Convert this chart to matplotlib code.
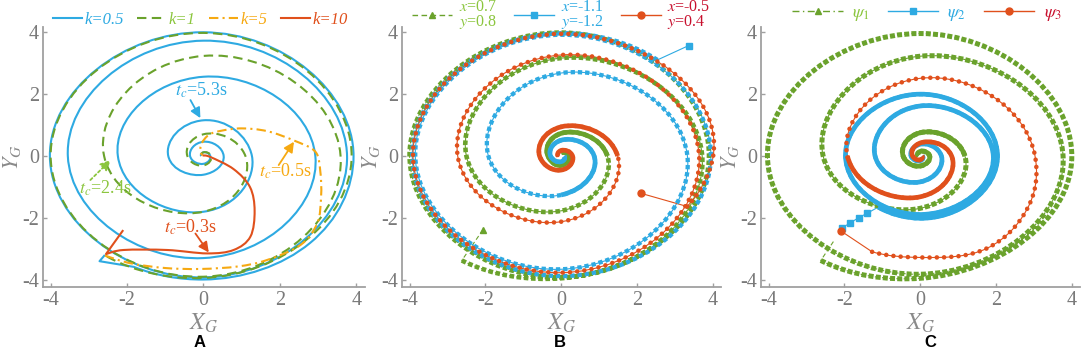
import numpy as np
import matplotlib
matplotlib.use('Agg')
import matplotlib.pyplot as plt
from matplotlib.path import Path
from matplotlib.patches import PathPatch
from matplotlib.lines import Line2D

plt.rcParams['font.family'] = 'serif'
plt.rcParams['font.serif'] = ['Liberation Serif', 'DejaVu Serif']
plt.rcParams['mathtext.fontset'] = 'stix'
plt.rcParams['axes.unicode_minus'] = False

BLUE = '#2eaae2'
GREEN = '#6aa22c'
GREEN_TXT = '#8cc63f'
ORANGE = '#f6a912'
RED = '#e0501c'
RED_TXT = '#c8102e'
SERIF = ['Liberation Serif', 'DejaVu Serif']

# ---- panel A: polar samples (angle in deg, radius) ----
a_blue_lead_x = [-2.58, -2.72]
a_blue_lead_y = [-3.18, -3.38]
a_blue_theta = [243, 270, 315, 360, 450, 540, 630, 720, 810, 900, 990, 1080, 1170,
                1260, 1350, 1440, 1530, 1620, 1710, 1800, 1890, 1980, 2070, 2160, 2250, 2340]
a_blue_r = [4.0, 3.97, 3.95, 3.93, 3.98, 4.02, 3.9, 3.76, 3.71, 3.55, 3.28, 2.93, 2.55,
            2.24, 1.79, 1.27, 1.15, 0.92, 0.6, 0.53, 0.46, 0.35, 0.25, 0.18, 0.12, 0.06]

a_green_theta = [232, 270, 360, 450, 540, 630, 720, 810, 900, 990, 1080, 1170, 1260, 1350, 1440, 1530, 1620]
a_green_r = [4.1, 3.92, 3.88, 3.96, 4.0, 3.88, 3.59, 3.22, 2.6, 1.79, 1.1, 0.7, 0.42, 0.3, 0.2, 0.12, 0.05]

a_orange_x = [-2.58, -1.9, -1.0, -0.08, 0.9, 1.67, 2.54, 2.98, 3.08, 3.06, 2.93, 2.37,
              1.67, 1.0, 0.45, 0.14, -0.05, -0.08, -0.02]
a_orange_y = [-3.2, -3.45, -3.6, -3.63, -3.55, -3.34, -2.86, -2.16, -1.3, -0.5, 0.14, 0.5,
              0.8, 0.89, 0.81, 0.68, 0.4, 0.14, 0.02]

a_red_lead_x = [-2.1]
a_red_lead_y = [-2.38]
a_red_x = [-2.55, -2.09, -0.95, 0.1, 0.79, 1.23, 1.34, 1.22, 0.79, 0.18, -0.02]
a_red_y = [-3.15, -3.02, -3.02, -3.13, -3.02, -2.59, -1.76, -1.0, -0.42, -0.03, 0.02]

a_labels = ['k=0.5', 'k=1', 'k=5', 'k=10']

# ---- panel B ----
b_green_lead_x = [-2.07]
b_green_lead_y = [-2.38]
b_green_theta = [232, 270, 360, 450, 540, 630, 720, 810, 900, 990, 1080, 1170, 1260, 1350, 1440, 1530]
b_green_r = [4.26, 3.93, 3.9, 3.97, 4.0, 3.9, 3.72, 3.15, 2.5, 1.76, 1.22, 0.73, 0.35, 0.3, 0.2, 0.1]

b_blue_lead_x = [3.36]
b_blue_lead_y = [3.55]
b_blue_theta = [50.6, 90, 180, 270, 360, 450, 540, 630, 720, 810, 900, 990, 1080, 1170, 1260, 1350, 1440]
b_blue_r = [4.0, 3.95, 3.93, 3.86, 3.95, 3.9, 3.85, 3.64, 3.33, 2.67, 1.92, 1.25, 0.87, 0.51, 0.28, 0.18, 0.08]

b_red_lead_x = [2.11]
b_red_lead_y = [-1.2]
b_red_theta = [334, 360, 450, 540, 630, 720, 810, 900, 990, 1080, 1170, 1260, 1350, 1440, 1530, 1620]
b_red_r = [3.7, 4.01, 3.93, 3.91, 3.75, 3.64, 3.25, 2.73, 2.11, 1.49, 0.94, 0.57, 0.45, 0.3, 0.18, 0.08]

b_labels = ['$x$=0.7\n$y$=0.8', '$x$=-1.1\n$y$=-1.2', '$x$=-0.5\n$y$=0.4']

# ---- panel C ----
c_green_lead_x = [-2.29]
c_green_lead_y = [-2.75]
c_green_theta = [232, 270, 360, 450, 540, 630, 720, 810, 900, 990, 1080, 1170, 1260, 1350, 1440, 1530, 1620]
c_green_r = [4.26, 3.93, 4.0, 3.94, 4.03, 3.8, 3.77, 3.21, 2.56, 1.68, 1.18, 0.75, 0.45, 0.32, 0.25, 0.15, 0.05]

c_blue_lead_x = [-2.07, -1.85, -1.62, -1.4]
c_blue_lead_y = [-2.32, -2.15, -1.98, -1.84]
c_blue_theta = [236, 270, 360, 450, 540, 630, 720, 810, 900, 990, 1080, 1170, 1260, 1350, 1440]
c_blue_r = [1.98, 2.0, 2.04, 1.99, 1.97, 1.88, 1.93, 1.61, 1.19, 0.83, 0.56, 0.38, 0.24, 0.15, 0.06]

c_red_lead_x = [-2.09]
c_red_lead_y = [-2.41]
c_red_theta = [247.6, 270, 300.6, 332.3, 360, 450, 540, 630, 720, 810, 900, 990, 1080]
c_red_r = [3.33, 3.26, 3.45, 3.27, 3.03, 2.5, 1.92, 1.31, 0.83, 0.42, 0.2, 0.12, 0.05]

c_labels = [r'$\psi_1$', r'$\psi_2$', r'$\psi_3$']


def polar_knots(theta_deg, r):
    t = np.radians(theta_deg)
    r = np.asarray(r, float)
    dr = np.gradient(r, t)
    pts = np.column_stack([r * np.cos(t), r * np.sin(t)])
    tan = np.column_stack([dr * np.cos(t) - r * np.sin(t), dr * np.sin(t) + r * np.cos(t)])
    return pts, tan, np.diff(t)


def cart_knots(x, y):
    pts = np.column_stack([x, y]).astype(float)
    q = np.vstack([pts[:1], pts, pts[-1:]])
    tan = (q[2:] - q[:-2]) / 2
    return pts, tan, np.ones(len(pts) - 1)


def make_path(knots, lead_x=(), lead_y=(), start=0):
    pts, tan, h = knots
    verts, codes = [], []
    for x, y in zip(lead_x, lead_y):
        verts.append((x, y))
        codes.append(Path.LINETO if codes else Path.MOVETO)
    verts.append(pts[start])
    codes.append(Path.LINETO if codes else Path.MOVETO)
    for i in range(start, len(pts) - 1):
        verts += [pts[i] + tan[i] * h[i] / 3, pts[i + 1] - tan[i + 1] * h[i] / 3, pts[i + 1]]
        codes += [Path.CURVE4] * 3
    return Path(verts, codes)


def line(ax, path, color, lw, ls='-', z=2):
    ax.add_patch(PathPatch(path, fill=False, edgecolor=color, lw=lw, linestyle=ls,
                           capstyle='butt', joinstyle='round', zorder=z))


def beads(ax, path, color, size, step, shape, z=3):
    # marker-like beads along the trajectory (size/step in pixels)
    lw = size * 0.72
    if shape == 'o':
        ls, cap = (0, (0.01, step / size)), 'round'
    else:
        ls, cap = (0, (1.0, (step - size) / size)), 'butt'
    ax.add_patch(PathPatch(path, fill=False, edgecolor=color, lw=lw, linestyle=ls,
                           capstyle=cap, zorder=z))


def band_start(r, limit):
    # first knot from which the markers crowd into a solid band
    for i, v in enumerate(r):
        if v <= limit:
            return i
    return len(r) - 1


fig = plt.figure(figsize=(10.84, 3.55), dpi=100)
ax_a = fig.add_axes([0.03967, 0.19155, 0.2967, 0.7333])
ax_b = fig.add_axes([0.37085, 0.19155, 0.2944, 0.7333])
ax_c = fig.add_axes([0.70203, 0.19155, 0.2944, 0.7333])

for ax in (ax_a, ax_b, ax_c):
    ax.set_xlim(-4.2, 4.22)
    ax.set_ylim(-4.21, 4.16)
    ax.spines['top'].set_visible(False)
    ax.spines['right'].set_visible(False)
    for s in ('left', 'bottom'):
        ax.spines[s].set_color('#a0a0a0')
        ax.spines[s].set_linewidth(1.3)
    ax.set_xticks([-4, -2, 0, 2, 4])
    ax.set_yticks([-4, -2, 0, 2, 4])
    ax.tick_params(direction='in', length=3, width=1, color='#a0a0a0',
                   labelcolor='#7a7a7a', labelsize=14.5, pad=3)
    ax.set_xlabel('$X_G$', color='#8a8a8a', fontsize=17, labelpad=1)
    ax.set_ylabel('$Y_G$', color='#8a8a8a', fontsize=16, labelpad=-1)

# ---------- A ----------
line(ax_a, make_path(polar_knots(a_blue_theta, a_blue_r), a_blue_lead_x, a_blue_lead_y), BLUE, 1.5)
line(ax_a, make_path(polar_knots(a_green_theta, a_green_r)), GREEN, 1.5, (0, (4.5, 2.6)))
line(ax_a, make_path(cart_knots(a_orange_x, a_orange_y)), ORANGE, 1.5, (0, (4.5, 2.0, 1.0, 2.0)))
line(ax_a, make_path(cart_knots(a_red_x, a_red_y), a_red_lead_x, a_red_lead_y), RED, 1.5)

arr = dict(arrowstyle='-|>,head_length=0.6,head_width=0.3', lw=1.3, shrinkA=0, shrinkB=0)
ax_a.annotate('', xy=(-0.08, 1.22), xytext=(-0.34, 1.8), arrowprops=dict(color=BLUE, **arr))
ax_a.text(-0.05, 2.1, '$t_c$=5.3s', color=BLUE, fontsize=13, ha='center', va='center')
ax_a.annotate('', xy=(-2.43, -0.13), xytext=(-2.96, -0.77),
              arrowprops=dict(color=GREEN_TXT, linestyle=(0, (1.5, 1.5)), **arr))
ax_a.text(-2.58, -1.03, '$t_c$=2.4s', color=GREEN_TXT, fontsize=13, ha='center', va='center')
ax_a.annotate('', xy=(2.37, 0.46), xytext=(1.97, -0.29), arrowprops=dict(color=ORANGE, **arr))
ax_a.text(2.15, -0.5, '$t_c$=0.5s', color=ORANGE, fontsize=13, ha='center', va='center')
ax_a.annotate('', xy=(0.14, -3.1), xytext=(-0.21, -2.49), arrowprops=dict(color=RED, **arr))
ax_a.text(-0.34, -2.3, '$t_c$=0.3s', color=RED, fontsize=13, ha='center', va='center')

a_handles = [Line2D([], [], color=BLUE, lw=1.5),
             Line2D([], [], color=GREEN, lw=1.5, ls=(0, (4.5, 2.6))),
             Line2D([], [], color=ORANGE, lw=1.5, ls=(0, (4.5, 2.0, 1.0, 2.0))),
             Line2D([], [], color=RED, lw=1.5)]
ax_a.legend(a_handles, a_labels, loc='center', bbox_to_anchor=(0.49, 1.025), ncol=4,
            frameon=False, borderpad=0, handlelength=1.75, handletextpad=0.15, columnspacing=0.8,
            labelcolor=[BLUE, GREEN_TXT, ORANGE, RED],
            prop={'family': SERIF, 'style': 'italic', 'size': 12})

# ---------- B / C ----------
series_b = [
    (b_green_theta, b_green_r, b_green_lead_x, b_green_lead_y, GREEN, '^', (0, (4, 2.5)), 1.3, 4.6),
    (b_blue_theta, b_blue_r, b_blue_lead_x, b_blue_lead_y, BLUE, 's', '-', 1.3, 4.3),
    (b_red_theta, b_red_r, b_red_lead_x, b_red_lead_y, RED, 'o', '-', 1.6, 4.6),
]
series_c = [
    (c_green_theta, c_green_r, c_green_lead_x, c_green_lead_y, GREEN, '^', (0, (4, 2.5)), 1.3, 5.0),
    (c_blue_theta, c_blue_r, c_blue_lead_x, c_blue_lead_y, BLUE, 's', '-', 2.1, 4.3),
    (c_red_theta, c_red_r, c_red_lead_x, c_red_lead_y, RED, 'o', '-', 2.0, 4.6),
]
for ax, series in ((ax_b, series_b), (ax_c, series_c)):
    for th, rr, lx, ly, col, mk, ls, lim, size in series:
        kn = polar_knots(th, rr)
        line(ax, make_path(kn, lx, ly), col, 0.8, ls)
        beads(ax, make_path(kn), col, size, 7.2, mk)
        line(ax, make_path(kn, start=band_start(rr, lim)), col, 3.4, '-', z=3)
        if ax is ax_b or mk != '^':
            ax.plot(lx, ly, ls='none', marker=mk, ms=5, color=col, zorder=3)

b_handles = [Line2D([], [], color=GREEN, lw=1, ls=(0, (4, 2.5)), marker='^', ms=5),
             Line2D([], [], color=BLUE, lw=1, marker='s', ms=4.5),
             Line2D([], [], color=RED, lw=1, marker='o', ms=5)]
leg = ax_b.legend(b_handles, b_labels, loc='center', bbox_to_anchor=(0.5, 1.045), ncol=3,
                  frameon=False, borderpad=0, handlelength=2.5, handletextpad=0.4,
                  columnspacing=1.1, labelcolor=[GREEN_TXT, BLUE, RED_TXT],
                  prop={'family': SERIF, 'size': 11.5})
for t in leg.get_texts():
    t.set_linespacing(0.8)

c_handles = [Line2D([], [], color=GREEN, lw=1, ls=(0, (5, 2.5, 1, 2.5)), marker='^', ms=5),
             Line2D([], [], color=BLUE, lw=1, marker='s', ms=4.5),
             Line2D([], [], color=RED, lw=1, marker='o', ms=5)]
ax_c.legend(c_handles, c_labels, loc='center', bbox_to_anchor=(0.52, 1.05), ncol=3,
            frameon=False, borderpad=0, handlelength=2.8, handletextpad=0.5,
            columnspacing=1.0, labelcolor=[GREEN_TXT, BLUE, RED_TXT],
            prop={'family': SERIF, 'size': 13})

for x, lab in ((0.1845, 'A'), (0.5166, 'B'), (0.858, 'C')):
    fig.text(x, 0.034, lab, ha='center', va='center', fontsize=12,
             fontweight='bold', family='Liberation Sans')

fig.savefig('out.png', dpi=100, facecolor='white')
